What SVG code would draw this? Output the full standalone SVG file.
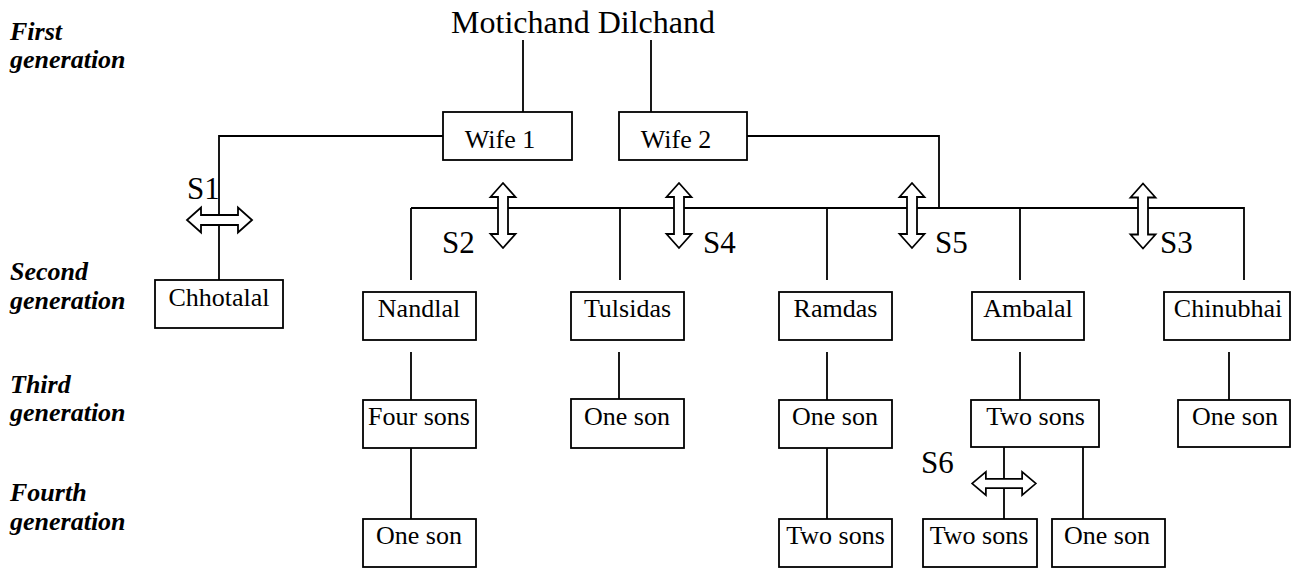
<svg xmlns="http://www.w3.org/2000/svg" xmlns:xlink="http://www.w3.org/1999/xlink" width="1292" height="568" viewBox="0 0 1292 568">
  <style>
    .box { fill: #fff; stroke: #000; stroke-width: 1.8; }
    .lbl { font-family: "Liberation Serif", "Times New Roman", serif; font-size: 26px; fill: #000; text-anchor: middle; }
    .big { font-family: "Liberation Serif", "Times New Roman", serif; font-size: 32px; fill: #000; }
    .s { font-family: "Liberation Serif", "Times New Roman", serif; font-size: 31px; fill: #000; }
    .gen { font-family: "Liberation Serif", "Times New Roman", serif; font-size: 26px; font-weight: bold; font-style: italic; fill: #000; }
    .ln { fill: none; stroke: #000; stroke-width: 1.8; }
    .split { fill: #fff; stroke: #000; stroke-width: 1.8; stroke-linejoin: miter; }
  </style>
  <defs>
    <!-- double-headed hollow arrow, vertical, centred on the origin -->
    <path id="dbl" class="split" d="M0,-32.5 L12.5,-18.5 L5,-18.5 L5,18.5 L12.5,18.5 L0,32.5 L-12.5,18.5 L-5,18.5 L-5,-18.5 L-12.5,-18.5 Z"/>
  </defs>
  <rect width="1292" height="568" fill="#fff"/>

  <!-- generation captions -->
  <g id="generations">
    <text class="gen" x="10" y="40">First</text>
    <text class="gen" x="10" y="68">generation</text>
    <text class="gen" x="10" y="280">Second</text>
    <text class="gen" x="10" y="309">generation</text>
    <text class="gen" x="10" y="393">Third</text>
    <text class="gen" x="10" y="421">generation</text>
    <text class="gen" x="10" y="501">Fourth</text>
    <text class="gen" x="10" y="530">generation</text>
  </g>

  <!-- connectors -->
  <g id="connectors">
    <path class="ln" d="M523,40 V112 M651,40 V112"/>
    <path class="ln" d="M443,136 H219 V280"/>
    <path class="ln" d="M747,136 H939 V208"/>
    <path class="ln" d="M411,208 H1244 V280 M411,208 V280 M620,208 V280 M827,208 V280 M1020,208 V280"/>
    <path class="ln" d="M411,352 V400 M411,448 V519"/>
    <path class="ln" d="M619,352 V399"/>
    <path class="ln" d="M827,352 V400 M827,448 V519"/>
    <path class="ln" d="M1020,352 V400"/>
    <path class="ln" d="M1004,447 V519 M1083,447 V519"/>
    <path class="ln" d="M1229,352 V400"/>
  </g>

  <!-- split markers -->
  <g id="splits">
    <use xlink:href="#dbl" transform="translate(219.5,220) rotate(90)"/>
    <use xlink:href="#dbl" transform="translate(503,215.5)"/>
    <use xlink:href="#dbl" transform="translate(679,215.5)"/>
    <use xlink:href="#dbl" transform="translate(912,215.5)"/>
    <use xlink:href="#dbl" transform="translate(1143,216)"/>
    <use xlink:href="#dbl" transform="translate(1004,483.5) rotate(90) scale(0.93,0.98)"/>
    <text class="s" x="187" y="199">S1</text>
    <text class="s" x="442" y="253">S2</text>
    <text class="s" x="703" y="253">S4</text>
    <text class="s" x="935" y="253">S5</text>
    <text class="s" x="1160" y="253">S3</text>
    <text class="s" x="921" y="473">S6</text>
  </g>

  <g id="motichand">
    <text class="big" x="583" y="33" text-anchor="middle">Motichand Dilchand</text>
  </g>
  <g id="wife1">
    <rect class="box" x="443" y="112" width="129" height="48"/>
    <text class="lbl" x="500" y="148">Wife 1</text>
  </g>
  <g id="wife2">
    <rect class="box" x="619" y="112" width="128" height="48"/>
    <text class="lbl" x="676" y="148">Wife 2</text>
  </g>

  <g id="chhotalal">
    <rect class="box" x="155" y="280" width="128" height="48"/>
    <text class="lbl" x="219" y="306">Chhotalal</text>
  </g>
  <g id="nandlal">
    <rect class="box" x="363" y="292" width="113" height="48"/>
    <text class="lbl" x="419" y="317">Nandlal</text>
  </g>
  <g id="tulsidas">
    <rect class="box" x="571" y="292" width="113" height="48"/>
    <text class="lbl" x="627.5" y="317">Tulsidas</text>
  </g>
  <g id="ramdas">
    <rect class="box" x="779" y="292" width="113" height="48"/>
    <text class="lbl" x="835.5" y="317">Ramdas</text>
  </g>
  <g id="ambalal">
    <rect class="box" x="972" y="292" width="112" height="48"/>
    <text class="lbl" x="1028" y="317">Ambalal</text>
  </g>
  <g id="chinubhai">
    <rect class="box" x="1164" y="292" width="126" height="48"/>
    <text class="lbl" x="1228" y="317">Chinubhai</text>
  </g>

  <g id="nandlal-sons">
    <rect class="box" x="363" y="400" width="113" height="48"/>
    <text class="lbl" x="419" y="425">Four sons</text>
  </g>
  <g id="tulsidas-son">
    <rect class="box" x="571" y="399" width="113" height="49"/>
    <text class="lbl" x="627" y="425">One son</text>
  </g>
  <g id="ramdas-son">
    <rect class="box" x="779" y="400" width="113" height="48"/>
    <text class="lbl" x="835" y="425">One son</text>
  </g>
  <g id="ambalal-sons">
    <rect class="box" x="971" y="400" width="128" height="47"/>
    <text class="lbl" x="1035.5" y="425">Two sons</text>
  </g>
  <g id="chinubhai-son">
    <rect class="box" x="1178" y="400" width="112" height="47"/>
    <text class="lbl" x="1235" y="425">One son</text>
  </g>

  <g id="nandlal-grandson">
    <rect class="box" x="363" y="519" width="113" height="48"/>
    <text class="lbl" x="419" y="544">One son</text>
  </g>
  <g id="ramdas-grandsons">
    <rect class="box" x="779" y="519" width="113" height="48"/>
    <text class="lbl" x="835.5" y="544">Two sons</text>
  </g>
  <g id="ambalal-grandsons-a">
    <rect class="box" x="923" y="519" width="114" height="48"/>
    <text class="lbl" x="979" y="544">Two sons</text>
  </g>
  <g id="ambalal-grandsons-b">
    <rect class="box" x="1052" y="519" width="113" height="48"/>
    <text class="lbl" x="1107" y="544">One son</text>
  </g>
</svg>
